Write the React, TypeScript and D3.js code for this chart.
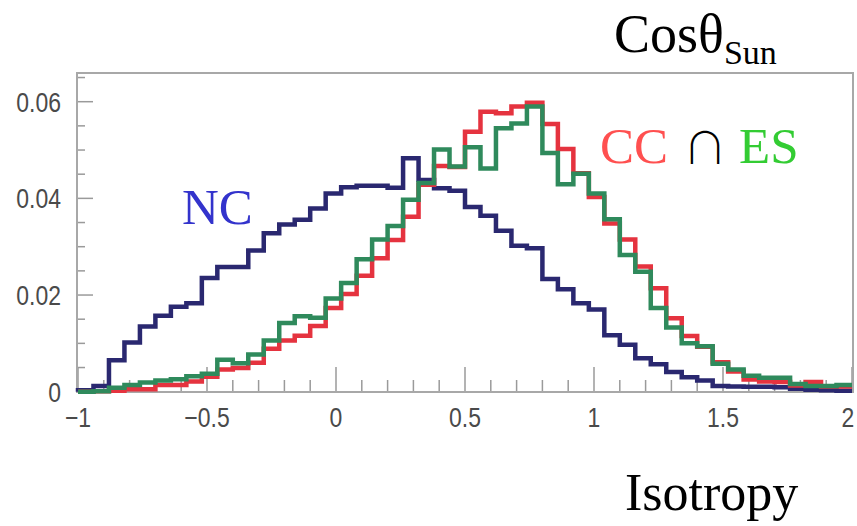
import React from "react";
import * as d3 from "d3";

const BIN_START = -1;
const BIN_WIDTH = 0.06;

const ncValues = [
  0.0003, 0.0012, 0.0065, 0.0102, 0.0135, 0.0157, 0.0176, 0.0183, 0.0235, 0.0258,
  0.0258, 0.0292, 0.0328, 0.0346, 0.0356, 0.0379, 0.041, 0.0423, 0.0426, 0.0426,
  0.0422, 0.0483, 0.0438, 0.0421, 0.0416, 0.0382, 0.0364, 0.0333, 0.0302, 0.0297,
  0.0233, 0.0212, 0.0183, 0.017, 0.0117, 0.0097, 0.0069, 0.0057, 0.0041, 0.003,
  0.0023, 0.0012, 0.0011, 0.001, 0.001, 0.0009, 0.0006, 0.0004, 0.0003, 0.0002,
];

const ccValues = [
  0, 0.0001, 0.0002, 0.0005, 0.0005, 0.0014, 0.0014, 0.0021, 0.0031, 0.0046,
  0.0049, 0.006, 0.0089, 0.0106, 0.0116, 0.0136, 0.0173, 0.0202, 0.024, 0.0276,
  0.0314, 0.0362, 0.0428, 0.0467, 0.0465, 0.0538, 0.0579, 0.0576, 0.059, 0.0598,
  0.0554, 0.0502, 0.0452, 0.0403, 0.0348, 0.0315, 0.0259, 0.0214, 0.0152, 0.0115,
  0.0093, 0.0061, 0.0042, 0.0025, 0.0021, 0.002, 0.0013, 0.002, 0.0011, 0.0011,
];

const esValues = [
  0, 0.0001, 0.0008, 0.0014, 0.0019, 0.0023, 0.0026, 0.0032, 0.0037, 0.0066,
  0.0059, 0.0077, 0.0106, 0.0142, 0.0156, 0.0153, 0.0193, 0.0225, 0.0274, 0.0315,
  0.0343, 0.0397, 0.0432, 0.0501, 0.0466, 0.0506, 0.0462, 0.0545, 0.0555, 0.059,
  0.0494, 0.0429, 0.0451, 0.041, 0.0357, 0.0283, 0.0248, 0.0173, 0.0133, 0.01,
  0.0094, 0.0058, 0.0046, 0.0033, 0.0029, 0.0029, 0.0016, 0.0012, 0.0012, 0.0014,
];

const xTickLabels = ["-1", "-0.5", "0", "0.5", "1", "1.5", "2"];
const xTickValues = [-1, -0.5, 0, 0.5, 1, 1.5, 2];
const yTickLabels = ["0", "0.02", "0.04", "0.06"];
const yTickValues = [0, 0.02, 0.04, 0.06];

const W = 857;
const H = 526;

export default function App() {
  const x = d3.scaleLinear().domain([-1, 2]).range([78, 852]);
  const y = d3.scaleLinear().domain([0, 0.066]).range([391.7, 72.7]);

  const frame = { left: 77, right: 853, top: 73, bottom: 392 };

  const stepPath = (vals: number[]) => {
    const pts: [number, number][] = [[BIN_START, 0]];
    vals.forEach((v, i) => pts.push([BIN_START + i * BIN_WIDTH, v]));
    pts.push([BIN_START + vals.length * BIN_WIDTH, vals[vals.length - 1]]);
    return d3
      .line<[number, number]>()
      .x((d) => x(d[0]))
      .y((d) => y(d[1]))
      .curve(d3.curveStepAfter)(pts) as string;
  };

  const minorY = d3.range(0, 0.0651, 0.005);
  const minorX = d3.range(-1, 2.001, 0.1);

  const series = [
    { vals: ncValues, color: "#2a2870" },
    { vals: ccValues, color: "#e5333f" },
    { vals: esValues, color: "#2f8a5c" },
  ];

  const tickFont = "'Liberation Sans', Arial, sans-serif";
  const serif = "'Liberation Serif', 'Times New Roman', serif";
  const sx = 0.82;

  return (
    <svg width={W} height={H} style={{ position: "absolute", left: 0, top: 0, background: "#fff" }}>
      <rect x={0} y={0} width={W} height={H} fill="#fff" />
      {/* ticks */}
      {minorY.map((v, i) => {
        const isMajor = Math.abs(v / 0.02 - Math.round(v / 0.02)) < 1e-6;
        return (
          <line key={"yt" + i} x1={frame.left} x2={frame.left + (isMajor ? 16 : 8)} y1={y(v)} y2={y(v)} stroke="#9a9a9a" strokeWidth={1.5} />
        );
      })}
      {minorX.map((v, i) => {
        const isMajor = Math.abs(v / 0.5 - Math.round(v / 0.5)) < 1e-6;
        return (
          <line key={"xt" + i} x1={x(v)} x2={x(v)} y1={frame.bottom} y2={frame.bottom - (isMajor ? 25 : 12)} stroke="#9a9a9a" strokeWidth={1.5} />
        );
      })}
      {/* frame */}
      <rect x={frame.left} y={frame.top} width={frame.right - frame.left} height={frame.bottom - frame.top} fill="none" stroke="#a8a8a8" strokeWidth={2} />
      {/* histograms */}
      {series.map((s, i) => (
        <path key={"s" + i} d={stepPath(s.vals)} fill="none" stroke={s.color} strokeWidth={4.5} strokeLinejoin="miter" />
      ))}
      {/* y labels */}
      {yTickValues.map((v, i) => (
        <text
          key={"yl" + i}
          transform={`translate(61, ${y(v) + 10}) scale(${sx}, 1)`}
          textAnchor="end"
          fontFamily={tickFont}
          fontSize={28}
          fill="#4a4a4a"
        >
          {yTickLabels[i]}
        </text>
      ))}
      {/* x labels */}
      {xTickValues.map((v, i) => (
        <text
          key={"xl" + i}
          transform={`translate(${Math.min(x(v), 848)}, 427) scale(${sx}, 1)`}
          textAnchor="middle"
          fontFamily={tickFont}
          fontSize={28}
          fill="#4a4a4a"
        >
          {xTickLabels[i].replace("-", "\u2212")}
        </text>
      ))}
      {/* annotations */}
      <text x={182} y={224} fontFamily={serif} fontSize={51} fill="#3333cc">NC</text>
      <text x={600} y={163} fontFamily={serif} fontSize={51} fill="#ff5050">CC</text>
      <text x={683} y={164} fontFamily="'Noto Sans CJK JP', 'DejaVu Sans', sans-serif" fontWeight={300} fontSize={44} fill="#000">∩</text>
      <text x={739} y={163} fontFamily={serif} fontSize={51} fill="#33cc33">ES</text>
      <text x={614} y={52} fontFamily={serif} fontSize={54} fill="#000">
        Cosθ
        <tspan dy={12} fontSize={34}>Sun</tspan>
      </text>
      <text x={625} y={510} fontFamily={serif} fontSize={52} fill="#000">Isotropy</text>
    </svg>
  );
}
